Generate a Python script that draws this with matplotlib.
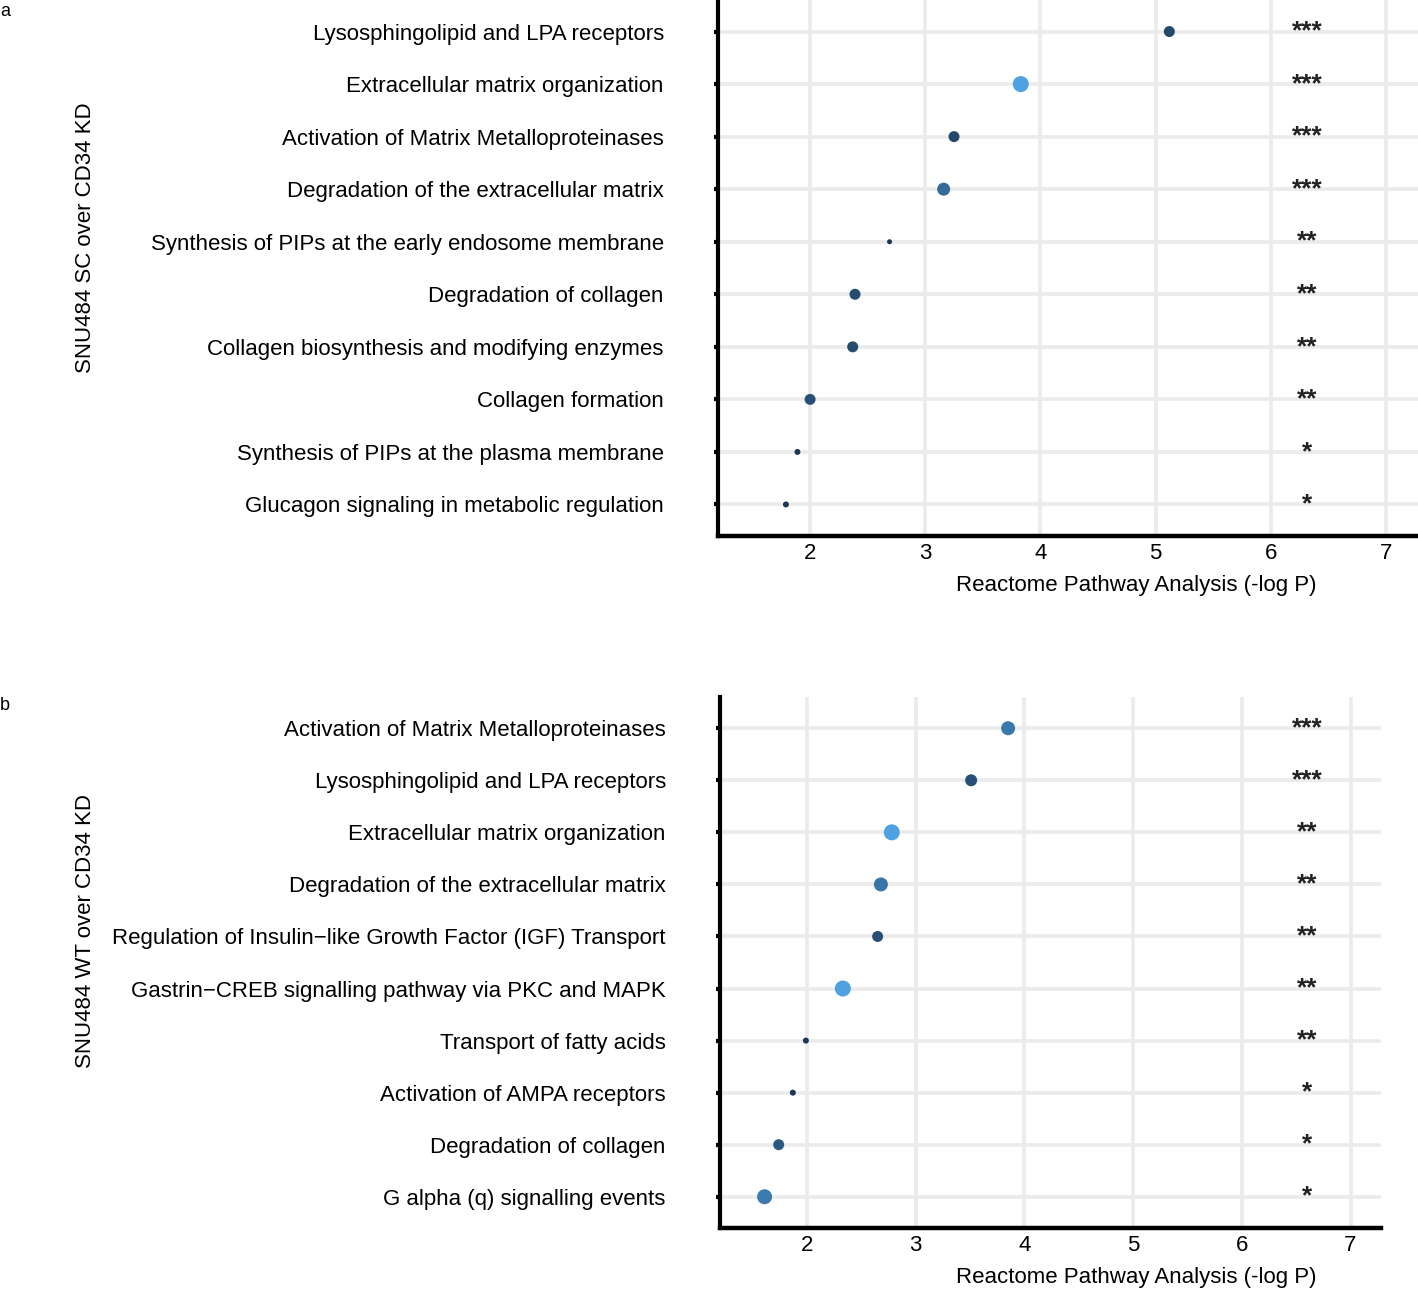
import matplotlib
matplotlib.use("Agg")
import matplotlib.pyplot as plt
from matplotlib.colors import LinearSegmentedColormap
import numpy as np

plt.rcParams['font.family'] = ['Liberation Sans', 'DejaVu Sans']

# ---- data ----
pathways_a = [
    "Lysosphingolipid and LPA receptors",
    "Extracellular matrix organization",
    "Activation of Matrix Metalloproteinases",
    "Degradation of the extracellular matrix",
    "Synthesis of PIPs at the early endosome membrane",
    "Degradation of collagen",
    "Collagen biosynthesis and modifying enzymes",
    "Collagen formation",
    "Synthesis of PIPs at the plasma membrane",
    "Glucagon signaling in metabolic regulation",
]
logp_a = [5.12, 3.83, 3.25, 3.16, 2.69, 2.39, 2.37, 2.0, 1.89, 1.79]
count_a = [8, 13, 8, 10, 2, 8, 8, 8, 3, 3]
ratio_a = [0.22, 0.88, 0.22, 0.48, 0.10, 0.25, 0.25, 0.28, 0.10, 0.10]
stars_a = ["***", "***", "***", "***", "**", "**", "**", "**", "*", "*"]

pathways_b = [
    "Activation of Matrix Metalloproteinases",
    "Lysosphingolipid and LPA receptors",
    "Extracellular matrix organization",
    "Degradation of the extracellular matrix",
    "Regulation of Insulin\u2212like Growth Factor (IGF) Transport",
    "Gastrin\u2212CREB signalling pathway via PKC and MAPK",
    "Transport of fatty acids",
    "Activation of AMPA receptors",
    "Degradation of collagen",
    "G alpha (q) signalling events",
]
logp_b = [3.85, 3.51, 2.78, 2.68, 2.65, 2.33, 1.99, 1.87, 1.74, 1.61]
count_b = [11, 9, 13, 11, 8, 13, 3, 3, 8, 12]
ratio_b = [0.58, 0.28, 0.88, 0.56, 0.28, 0.88, 0.10, 0.10, 0.35, 0.60]
stars_b = ["***", "***", "**", "**", "**", "**", "**", "*", "*", "*"]

ylabel_a = "SNU484 SC over CD34 KD"
ylabel_b = "SNU484 WT over CD34 KD"
xlabel = "Reactome Pathway Analysis (-log P)"
xticks = [2, 3, 4, 5, 6, 7]

# ---- styling ----
W, H = 1418, 1291
DPI = 100
cmap = LinearSegmentedColormap.from_list("gg", ["#132B43", "#56B1F7"])
grid_col = "#ebebeb"
FS = 16

fig = plt.figure(figsize=(W / DPI, H / DPI), dpi=DPI)


def panel(rect_px, names, vals, counts, ratios, stars, ylab, letter, letter_y, star_x, ylab_y):
    l, t, r, b = rect_px
    ax = fig.add_axes([l / W, 1 - b / H, (r - l) / W, (b - t) / H])
    n = len(names)
    y = np.arange(n)
    diam_px = 3 + np.array(counts, dtype=float)
    sizes = (diam_px * 72 / DPI) ** 2
    ax.scatter(vals, y, s=sizes, c=cmap(np.array(ratios)), edgecolors="none", zorder=3)
    for yi, st in zip(y, stars):
        ax.text(star_x, yi, st, ha="center", va="center", fontsize=19, fontweight="bold",
                color="#222222", zorder=4, transform=ax.transData)
    ax.set_xlim(1.2, 7.28)
    ax.set_ylim(n - 1 + 0.6, -0.6)
    ax.set_yticks(y)
    ax.set_yticklabels(names, fontsize=FS)
    ax.set_xticks(xticks)
    ax.set_xticklabels([str(v) for v in xticks], fontsize=FS)
    ax.grid(True, color=grid_col, linewidth=2.6, zorder=0)
    ax.set_axisbelow(True)
    for s in ["top", "right"]:
        ax.spines[s].set_visible(False)
    ax.spines["left"].set_linewidth(3.0)
    ax.spines["bottom"].set_linewidth(3.2)
    ax.tick_params(axis="y", length=3, width=3.0, pad=36, color="black")
    ax.tick_params(axis="x", length=0, pad=5)
    fig.text(1136 / W, 1 - (b + 50) / H, xlabel, ha="center", va="center", fontsize=FS)
    fig.text(86 / W, 1 - ylab_y / H, ylab, rotation=90, ha="center", va="center", fontsize=FS)
    fig.text(0 / W, 1 - letter_y / H, letter, ha="left", va="center", fontsize=13)
    return ax


panel((718, 0, 1418, 536), pathways_a, logp_a, count_a, ratio_a, stars_a, ylabel_a, "a", 12, 6.32, 238)
panel((720, 697, 1381, 1228), pathways_b, logp_b, count_b, ratio_b, stars_b, ylabel_b, "b", 705, 6.6, 931)

fig.savefig("out.png", dpi=DPI, facecolor="white")
